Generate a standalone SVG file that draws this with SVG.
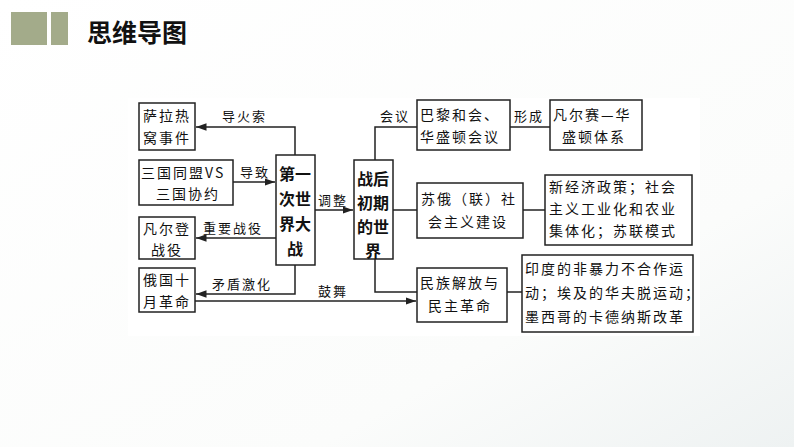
<svg xmlns="http://www.w3.org/2000/svg" width="794" height="447" viewBox="0 0 794 447">
<defs>
<marker id="a" viewBox="0 0 10 10" refX="10" refY="5" markerWidth="7" markerHeight="7" orient="auto"><path d="M0,1.5 L10,5 L0,8.5 z" fill="#222"/></marker>
<linearGradient id="bg" x1="0" y1="0" x2="1" y2="1"><stop offset="0" stop-color="#fff"/><stop offset="0.7" stop-color="#fbfcfb"/><stop offset="1" stop-color="#eef2f2"/></linearGradient>
</defs>
<style>
.b{fill:#fff;stroke:#222;stroke-width:1.5}
.t{font-family:"Noto Sans CJK SC",sans-serif;font-size:14px;fill:#111;letter-spacing:2px}
.h{font-family:"Noto Sans CJK SC",sans-serif;font-size:16px;font-weight:bold;fill:#111}
.l{font-family:"Noto Sans CJK SC",sans-serif;font-size:13px;fill:#111;letter-spacing:2px}
.c{fill:none;stroke:#222;stroke-width:1.5}
</style>
<rect width="794" height="447" fill="url(#bg)"/>
<rect x="11" y="12" width="36" height="33" fill="#a3ab8a"/>
<rect x="51" y="12" width="17" height="33" fill="#a3ab8a"/>
<text x="87" y="42" font-family="Noto Sans CJK SC,sans-serif" font-size="25" font-weight="bold" fill="#111">思维导图</text>
<rect x="128" y="98" width="572" height="238" fill="#fff"/>
<g id="connectors">
<path class="c" d="M295,155 V127 H196" marker-end="url(#a)"/>
<path class="c" d="M233,182 H275" marker-end="url(#a)"/>
<path class="c" d="M315,210 H353" marker-end="url(#a)"/>
<path class="c" d="M276,238 H196" marker-end="url(#a)"/>
<path class="c" d="M295,265 V294 H196" marker-end="url(#a)"/>
<path class="c" d="M195,301 H416" marker-end="url(#a)"/>
<path class="c" d="M375,160 V127 H417"/>
<path class="c" d="M375,259 V292 H417"/>
<path class="c" d="M510,127 H550"/>
<path class="c" d="M393,210 H417"/>
<path class="c" d="M523,210 H545"/>
<path class="c" d="M507,292 H522"/>
<text class="l" x="222" y="121">导火索</text>
<text class="l" x="240" y="177">导致</text>
<text class="l" x="318" y="205">调整</text>
<text class="l" x="203" y="233">重要战役</text>
<text class="l" x="212" y="289">矛盾激化</text>
<text class="l" x="318" y="296">鼓舞</text>
<text class="l" x="380" y="121">会议</text>
<text class="l" x="514" y="121">形成</text>
</g>
<g id="n1"><rect class="b" x="139" y="103" width="56" height="47"/><text class="t" x="143" y="121">萨拉热</text><text class="t" x="143" y="143">窝事件</text></g>
<g id="n2"><rect class="b" x="139" y="160" width="94" height="45"/><text class="t" x="141" y="178" letter-spacing="0">三国同盟VS</text><text class="t" x="156" y="199">三国协约</text></g>
<g id="n3"><rect class="b" x="139" y="217" width="56" height="42"/><text class="t" x="143" y="234">凡尔登</text><text class="t" x="151" y="255">战役</text></g>
<g id="n4"><rect class="b" x="139" y="268" width="56" height="44"/><text class="t" x="143" y="285">俄国十</text><text class="t" x="143" y="307">月革命</text></g>
<g id="n5"><rect class="b" x="276" y="155" width="39" height="110"/><text class="h" x="279" y="180">第一</text><text class="h" x="279" y="205">次世</text><text class="h" x="279" y="230">界大</text><text class="h" x="287" y="255">战</text></g>
<g id="n6"><rect class="b" x="354" y="160" width="39" height="99"/><text class="h" x="357" y="185">战后</text><text class="h" x="357" y="209">初期</text><text class="h" x="357" y="233">的世</text><text class="h" x="365" y="257">界</text></g>
<g id="n7"><rect class="b" x="417" y="100" width="93" height="50"/><text class="t" x="420" y="120">巴黎和会、</text><text class="t" x="420" y="142">华盛顿会议</text></g>
<g id="n8"><rect class="b" x="550" y="100" width="92" height="50"/><text class="t" x="553" y="120">凡尔赛—华</text><text class="t" x="562" y="142">盛顿体系</text></g>
<g id="n9"><rect class="b" x="417" y="183" width="106" height="55"/><text class="t" x="421" y="204">苏俄（联）社</text><text class="t" x="428" y="227">会主义建设</text></g>
<g id="n10"><rect class="b" x="545" y="175" width="147" height="70"/><text class="t" x="549" y="192">新经济政策；社会</text><text class="t" x="549" y="214">主义工业化和农业</text><text class="t" x="549" y="236">集体化；苏联模式</text></g>
<g id="n11"><rect class="b" x="417" y="268" width="90" height="54"/><text class="t" x="420" y="288">民族解放与</text><text class="t" x="428" y="311">民主革命</text></g>
<g id="n12"><rect class="b" x="522" y="255" width="171" height="77"/><text class="t" x="525" y="274" letter-spacing="0.5">印度的非暴力不合作运</text><text class="t" x="525" y="298" letter-spacing="0.5">动；埃及的华夫脱运动；</text><text class="t" x="525" y="322" letter-spacing="0.5">墨西哥的卡德纳斯改革</text></g>
</svg>
